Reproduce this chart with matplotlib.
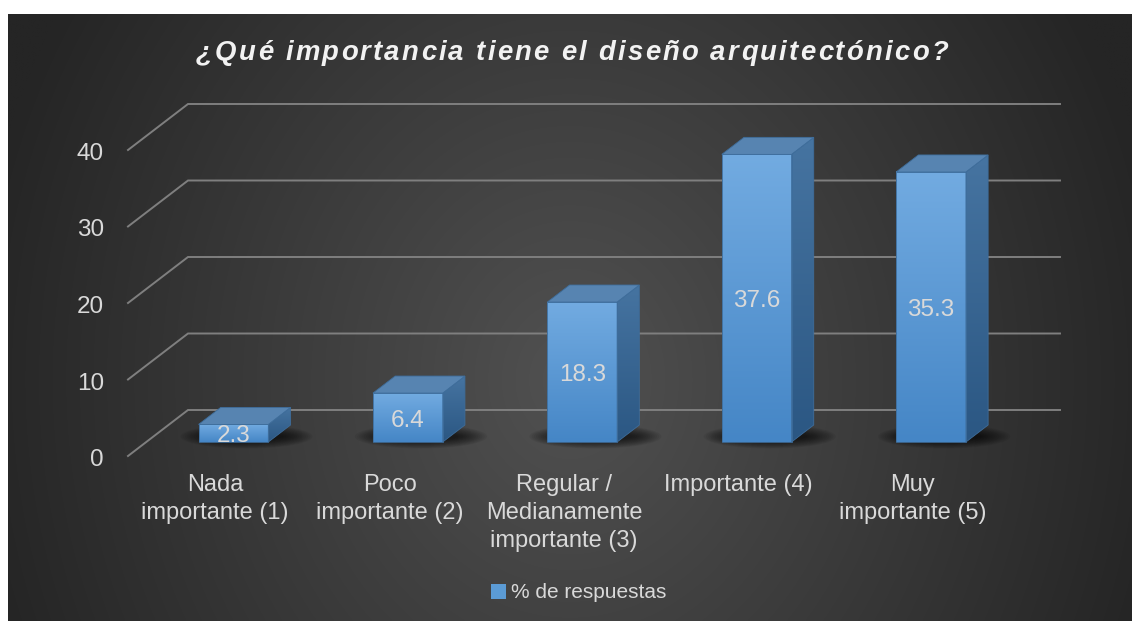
import numpy as np
import matplotlib
matplotlib.use("Agg")
import matplotlib.pyplot as plt
from matplotlib.patches import Polygon, Ellipse, Patch
from matplotlib.transforms import offset_copy
from matplotlib import font_manager
from matplotlib.ft2font import FT2Font

# ---- data -------------------------------------------------------------
categories = ["Nada\nimportante (1)", "Poco\nimportante (2)",
              "Regular /\nMedianamente\nimportante (3)", "Importante (4)",
              "Muy\nimportante (5)"]
values = [2.3, 6.4, 18.3, 37.6, 35.3]
yticks = [0, 10, 20, 30, 40]
series_name = "% de respuestas"
title = "¿Qué importancia tiene el diseño arquitectónico?"

plt.rcParams["font.family"] = ["Liberation Sans", "DejaVu Sans"]

W, H, DPI = 1132, 621, 100
fig = plt.figure(figsize=(W / DPI, H / DPI), dpi=DPI, facecolor="white")

# ---- dark panel with a radial gradient -------------------------------
bg = fig.add_axes([8 / W, 0, 1 - 8 / W, 1 - 14 / H])
bg.set_axis_off()
pw, ph = W - 8, H - 14
yy, xx = np.mgrid[0:ph:320j, 0:pw:600j]
r = np.sqrt(((xx - 562) / 600.0) ** 2 + ((yy - 366) / 700.0) ** 2)
r = np.clip(r, 0, 1)
c_in, c_out = 0x51 / 255, 0x25 / 255
g = c_out + (c_in - c_out) * (1 - r)
bg.imshow(np.dstack([g, g, g]), extent=(0, pw, ph, 0), aspect="auto",
          interpolation="bilinear")
bg.set_xlim(0, pw)
bg.set_ylim(ph, 0)

# ---- main axes: oblique projection of a simple 3-D column chart --------
PX_CAT = 174.4          # pixels per category on the front plane
PX_VAL = 7.65           # pixels per value unit
X0_PX, Y0_PX = 128, 456 # front-left floor corner (pixels)
DEPTH_PX = (60, 46)     # floor depth vector (pixels)
DX = DEPTH_PX[0] / PX_CAT
DV = DEPTH_PX[1] / PX_VAL
n = len(categories)

ax = fig.add_axes([0, 0, 1, 1])
ax.set_axis_off()
ax.patch.set_alpha(0)
xlim = ((0 - X0_PX) / PX_CAT - 0.5, (W - X0_PX) / PX_CAT - 0.5)
ylim = ((Y0_PX - H) / PX_VAL, Y0_PX / PX_VAL)


def proj(x, v, d):
    return x + d * DX, v + d * DV


grid_col = "#7f7f7f"
lab_tr = offset_copy(ax.transData, fig=fig, x=-24, y=-4, units="dots")
for t in yticks:
    # side wall diagonal and back wall line
    p0, p1 = proj(-0.5, t, 0), proj(-0.5, t, 1)
    p2 = proj(n - 0.5, t, 1)
    ax.plot([p0[0], p1[0], p2[0]], [p0[1], p1[1], p2[1]],
            color=grid_col, lw=1.4, zorder=1, solid_joinstyle="miter")
    ax.text(p0[0], p0[1], f"{t}", transform=lab_tr, ha="right", va="center",
            fontsize=17.5, color="#d9d9d9")

# bars
HALF = 0.2
D0, D1 = 0.304, 0.674
front_top, front_bot = np.array([0x72, 0xab, 0xe1]) / 255, np.array([0x45, 0x86, 0xc6]) / 255
side_top, side_bot = np.array([0x46, 0x74, 0xa1]) / 255, np.array([0x2b, 0x57, 0x83]) / 255
top_col = "#5784b1"
edge_col = "#3e6d9b"
val_tr = offset_copy(ax.transData, fig=fig, x=0, y=-3, units="dots")


def grad(c_top, c_bot, steps=128):
    t = np.linspace(0, 1, steps)[:, None]
    return (c_top[None, :] * (1 - t) + c_bot[None, :] * t)[:, None, :]


for i, v in enumerate(values):
    # soft floor shadow around the column base
    cx, cy = proj(i, 0, (D0 + D1) / 2)
    for k in range(14):
        f = 1 - k / 14
        w = (70 + 62 * f) / PX_CAT
        h = (6 + 18 * f) / PX_VAL
        ax.add_patch(Ellipse((cx + 2 / PX_CAT, cy - 3 / PX_VAL), w, h,
                             facecolor="black", edgecolor="none",
                             alpha=0.06, zorder=1.5))

    x0, x1 = i - HALF, i + HALF
    # front face
    fx0, fb = proj(x0, 0, D0)
    fx1, ft = proj(x1, v, D0)
    ax.imshow(grad(front_top, front_bot), extent=(fx0, fx1, fb, ft),
              aspect="auto", zorder=3, interpolation="bilinear")
    ax.add_patch(Polygon([(fx0, fb), (fx1, fb), (fx1, ft), (fx0, ft)],
                         closed=True, fill=False, edgecolor=edge_col,
                         lw=0.6, zorder=3.1))
    # right side face
    side = [proj(x1, 0, D0), proj(x1, 0, D1), proj(x1, v, D1), proj(x1, v, D0)]
    sp = Polygon(side, closed=True, facecolor="none", edgecolor=edge_col,
                 lw=0.6, zorder=3.1)
    ax.add_patch(sp)
    sxs = [p[0] for p in side]
    sys_ = [p[1] for p in side]
    im = ax.imshow(grad(side_top, side_bot),
                   extent=(min(sxs), max(sxs), min(sys_), max(sys_)),
                   aspect="auto", zorder=3, interpolation="bilinear")
    im.set_clip_path(sp)
    # top face
    top = [proj(x0, v, D0), proj(x1, v, D0), proj(x1, v, D1), proj(x0, v, D1)]
    ax.add_patch(Polygon(top, closed=True, facecolor=top_col,
                         edgecolor=edge_col, lw=0.6, zorder=3.2))
    # value label on the front face
    lx, ly = proj(i, v / 2, D0)
    ax.text(lx, ly, f"{v}", transform=val_tr, ha="center", va="center",
            fontsize=17.5, color="#d9d9d9", zorder=5)

# category labels
cat_tr = offset_copy(ax.transData, fig=fig, x=0, y=-18, units="dots")
for i, c in enumerate(categories):
    ax.text(i, 0, c, transform=cat_tr, ha="center", va="top", fontsize=17,
            color="#d9d9d9", linespacing=1.35, multialignment="center")

ax.set_xlim(*xlim)
ax.set_ylim(*ylim)

# ---- title with expanded letter spacing ------------------------------
t_size = 19.8
fp = font_manager.FontProperties(family="Liberation Sans", weight="bold",
                                 style="italic", size=t_size)
font = FT2Font(font_manager.findfont(fp))
font.set_size(t_size, DPI)
adv = [font.load_char(ord(ch)).linearHoriAdvance / 65536 for ch in title]
t_width = 752
gap = (t_width - sum(adv)) / (len(title) - 1)
x = 572 - t_width / 2
for ch, a in zip(title, adv):
    fig.text(x / W, 1 - 60 / H, ch, fontproperties=fp, color="#f2f2f2",
             ha="left", va="baseline")
    x += a + gap

# ---- legend -----------------------------------------------------------
fig.legend(handles=[Patch(facecolor="#5b9bd5", edgecolor="none",
                          label=series_name)],
           loc="center", bbox_to_anchor=(579 / W, 1 - 593 / H),
           frameon=False, fontsize=15, labelcolor="#d9d9d9",
           handlelength=0.7, handleheight=0.7, handletextpad=0.25)

fig.savefig("out.png", dpi=DPI, facecolor="white")
